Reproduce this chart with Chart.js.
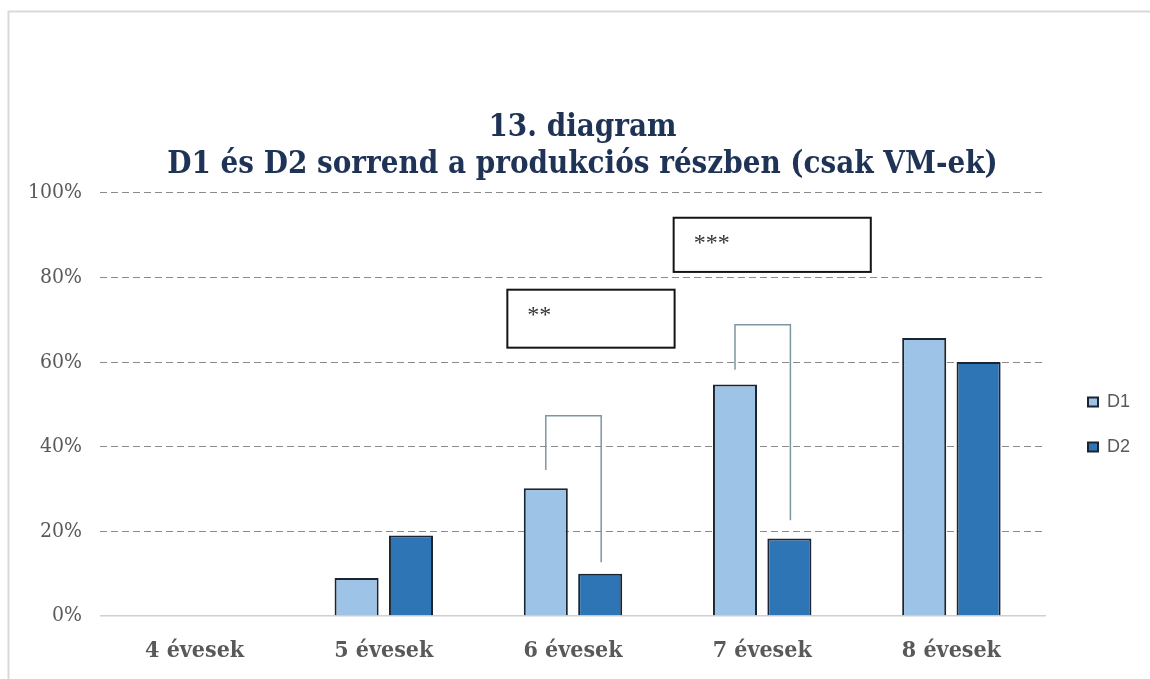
<!DOCTYPE html>
<html>
<head>
<meta charset="utf-8">
<script src="https://cdn.jsdelivr.net/npm/chart.js@4.4.0/dist/chart.umd.min.js"></script>
<style>
  html, body { margin: 0; padding: 0; background: #ffffff; }
  #wrap { position: relative; width: 1150px; height: 679px; }
</style>
</head>
<body>
<div id="wrap"><canvas id="c" width="1150" height="679"></canvas></div>
<script>
// ---- data ----
const categories = ['4 évesek', '5 évesek', '6 évesek', '7 évesek', '8 évesek'];
const seriesNames = ['D1', 'D2'];
const d1Values = [0, 9, 30.2, 54.7, 65.7];
const d2Values = [0, 19, 10, 18.3, 60];
const yTicks = [0, 20, 40, 60, 80, 100];
const titleLines = ['13. diagram', 'D1 és D2 sorrend a produkciós részben (csak VM-ek)'];
// significance brackets (category index, values in %)
const bracketCats = [2, 3];
const bracketTop = [47.3, 68.8];
const bracketLeftEnd = [34.5, 58.2];
const bracketRightEnd = [12.7, 22.6];
// note boxes (x in category units, y in %)
const noteLabels = ['**', '***'];
const noteXStart = [1.653, 2.532];
const noteXEnd = [2.537, 3.574];
const noteYTop = [77.1, 94.1];
const noteYBottom = [63.4, 81.3];

const SERIF = "'DejaVu Serif Condensed', 'DejaVu Serif', 'Liberation Serif', serif";
const GRAY = '#595959';

const framePlugin = {
  id: 'frame',
  beforeDraw(chart) {
    const ctx = chart.ctx;
    ctx.save();
    ctx.fillStyle = '#ffffff';
    ctx.fillRect(0, 0, chart.width, chart.height);
    ctx.strokeStyle = '#d9d9d9';
    ctx.lineWidth = 2;
    ctx.beginPath();
    ctx.moveTo(8.5, chart.height);
    ctx.lineTo(8.5, 11.5);
    ctx.lineTo(chart.width, 11.5);
    ctx.stroke();
    ctx.restore();
  }
};

const layoutShift = {
  id: 'layoutShift',
  afterLayout(chart) {
    const lg = chart.legend;
    if (lg) {
      const a = chart.chartArea;
      lg.left += 15; lg.right += 15;
      lg.top = a.top + 20; lg.bottom = a.bottom + 20;
      lg.height = lg.bottom - lg.top;
    }
    const t = chart.titleBlock;
    if (t) { t.left += 20; t.right += 20; }
  }
};

const annotations = {
  id: 'annotations',
  afterDatasetsDraw(chart) {
    const ctx = chart.ctx;
    const xs = chart.scales.x, ys = chart.scales.y;
    const m1 = chart.getDatasetMeta(0), m2 = chart.getDatasetMeta(1);
    ctx.save();
    // brackets
    ctx.strokeStyle = '#7d979f';
    ctx.lineWidth = 1.5;
    bracketCats.forEach((ci, i) => {
      const xl = m1.data[ci].x, xr = m2.data[ci].x + 1;
      const yt = ys.getPixelForValue(bracketTop[i]);
      ctx.beginPath();
      ctx.moveTo(xl, ys.getPixelForValue(bracketLeftEnd[i]));
      ctx.lineTo(xl, yt);
      ctx.lineTo(xr, yt);
      ctx.lineTo(xr, ys.getPixelForValue(bracketRightEnd[i]));
      ctx.stroke();
    });
    // note boxes
    noteLabels.forEach((lab, i) => {
      const x0 = xs.getPixelForValue(noteXStart[i]);
      const x1 = xs.getPixelForValue(noteXEnd[i]);
      const y0 = ys.getPixelForValue(noteYTop[i]);
      const y1 = ys.getPixelForValue(noteYBottom[i]);
      ctx.fillStyle = '#ffffff';
      ctx.fillRect(x0, y0, x1 - x0, y1 - y0);
      ctx.strokeStyle = '#141414';
      ctx.lineWidth = 2;
      ctx.strokeRect(x0, y0, x1 - x0, y1 - y0);
      ctx.fillStyle = '#333333';
      ctx.font = "24px 'Liberation Serif', serif";
      ctx.textAlign = 'left';
      ctx.textBaseline = 'middle';
      ctx.fillText(lab, x0 + 20, y0 + 26);
    });
    ctx.restore();
  }
};

new Chart(document.getElementById('c'), {
  type: 'bar',
  data: {
    labels: categories,
    datasets: [
      { label: seriesNames[0], data: d1Values, backgroundColor: '#9dc3e6', borderColor: '#1b2532', borderWidth: 2 },
      { label: seriesNames[1], data: d2Values, backgroundColor: '#2e75b6', borderColor: '#1b2532', borderWidth: 2 }
    ]
  },
  options: {
    responsive: false,
    animation: false,
    devicePixelRatio: 1,
    layout: { padding: { left: 0, right: 25, top: 0, bottom: 0 } },
    datasets: { bar: { categoryPercentage: 0.575, barPercentage: 0.81 } },
    plugins: {
      title: {
        display: true,
        text: titleLines,
        color: '#1f3356',
        font: { family: SERIF, size: 31, weight: 'bold', lineHeight: 1.19 },
        padding: { top: 110, bottom: 9 }
      },
      legend: {
        display: true,
        position: 'right',
        labels: {
          boxWidth: 10, boxHeight: 9, padding: 27,
          color: GRAY,
          font: { family: "'Liberation Sans', Arial, sans-serif", size: 18 }
        }
      },
      tooltip: { enabled: false }
    },
    scales: {
      x: {
        grid: { display: false, drawTicks: false },
        border: { display: false },
        ticks: { color: GRAY, padding: 21, font: { family: SERIF, size: 23, weight: 'bold' } },
        afterFit(s) { s.height = 63; }
      },
      y: {
        min: 0, max: 100,
        afterBuildTicks(s) { s.ticks = yTicks.map(v => ({ value: v })); },
        grid: {
          drawTicks: false,
          color: c => (c.tick && c.tick.value === 0) ? '#d0d0d0' : '#8a8a8a',
          lineWidth: c => (c.tick && c.tick.value === 0) ? 1.5 : 1
        },
        border: {
          display: false,
          dash: c => (c.tick && c.tick.value === 0) ? [] : [7, 4]
        },
        ticks: {
          color: GRAY, padding: 18,
          font: { family: SERIF, size: 21 },
          callback: v => v + '%'
        },
        afterFit(s) { s.width = 100; }
      }
    }
  },
  plugins: [framePlugin, layoutShift, annotations]
});
</script>
</body>
</html>
